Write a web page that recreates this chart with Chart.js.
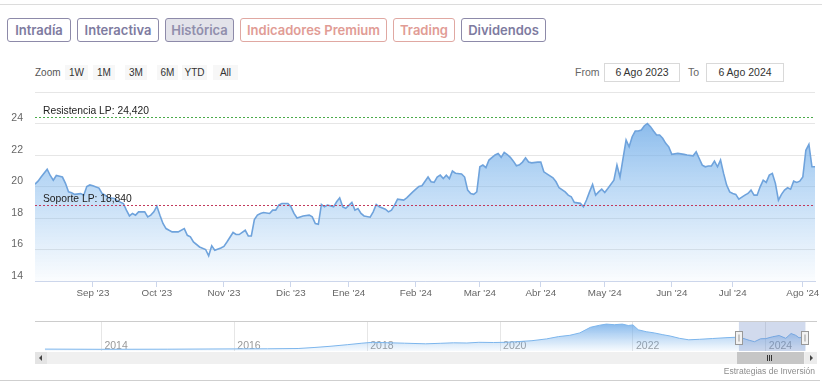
<!DOCTYPE html>
<html>
<head>
<meta charset="utf-8">
<script src="https://cdn.jsdelivr.net/npm/chart.js@4/dist/chart.umd.min.js"></script>
<style>
  html, body { margin: 0; padding: 0; background: #fff; }
  body { width: 829px; height: 384px; position: relative; overflow: hidden; font-family: "Liberation Sans", Arial, sans-serif; }
  .abs { position: absolute; }
  .hline { position: absolute; height: 1px; background: #dcdcdc; }
  .tab { position: absolute; top: 18px; height: 22px; line-height: 22px; border: 1px solid #8d8aa9; border-radius: 3px;
         font-family: Inter, "Open Sans", sans-serif; font-weight: 600; font-size: 13px; color: #7e7b9f; text-align: center; box-sizing: content-box; }
  .tab.active { background: #e3e3ea; color: #908eac; }
  .tab.premium { border-color: #e0a8a2; color: #e19c95; }
  .zl { position: absolute; top: 65px; height: 15px; line-height: 15px; font-family: "Liberation Sans", Arial, sans-serif; font-size: 10px; color: #333; }
  .zb { background: #f7f7f7; text-align: center; }
  .inp { position: absolute; top: 63px; height: 17px; line-height: 17px; border: 1px solid #d9d9d9; font-size: 10.5px; color: #333; text-align: center; }
  .lbl { position: absolute; top: 64px; line-height: 17px; font-size: 10.5px; color: #666; }
  canvas { position: absolute; left: 0; }
</style>
</head>
<body>
<div class="hline" style="top:4px;left:0;width:822px;"></div>

<div class="tab" style="left:7px;width:62px;">Intradía</div>
<div class="tab" style="left:77px;width:80px;">Interactiva</div>
<div class="tab active" style="left:165px;width:67px;">Histórica</div>
<div class="tab premium" style="left:240px;width:145px;">Indicadores Premium</div>
<div class="tab premium" style="left:393px;width:60px;">Trading</div>
<div class="tab" style="left:461px;width:83px;">Dividendos</div>

<div class="zl" style="left:35px;color:#555;">Zoom</div>
<div class="zl zb" style="left:65px;width:23px;">1W</div>
<div class="zl zb" style="left:93px;width:22px;">1M</div>
<div class="zl zb" style="left:125px;width:22px;">3M</div>
<div class="zl zb" style="left:157px;width:21px;">6M</div>
<div class="zl zb" style="left:182px;width:25px;">YTD</div>
<div class="zl zb" style="left:213px;width:25px;">All</div>

<div class="lbl" style="left:575px;">From</div>
<div class="inp" style="left:604px;width:74px;">6 Ago 2023</div>
<div class="lbl" style="left:688px;">To</div>
<div class="inp" style="left:706px;width:76px;">6 Ago 2024</div>

<canvas id="main" width="829" height="217" style="top:88px;width:829px;height:217px;"></canvas>
<canvas id="nav" width="829" height="36" style="top:318px;width:829px;height:36px;"></canvas>

<!-- scrollbar -->
<div class="abs" style="left:35px;top:352px;width:782px;height:12px;background:#f0f0f0;"></div>
<div class="abs" style="left:35px;top:352px;width:12px;height:12px;background:#e4e4e4;"></div>
<div class="abs" style="left:39px;top:355px;width:0;height:0;border-top:3px solid transparent;border-bottom:3px solid transparent;border-right:3px solid #444;"></div>
<div class="abs" style="left:737px;top:352px;width:67px;height:12px;background:#c6c6c6;"></div>
<div class="abs" style="left:767px;top:355px;width:1px;height:6px;background:#333;"></div>
<div class="abs" style="left:769px;top:355px;width:1px;height:6px;background:#333;"></div>
<div class="abs" style="left:771px;top:355px;width:1px;height:6px;background:#333;"></div>
<div class="abs" style="left:805px;top:352px;width:12px;height:12px;background:#ececec;"></div>
<div class="abs" style="left:810px;top:355px;width:0;height:0;border-top:3px solid transparent;border-bottom:3px solid transparent;border-left:3px solid #444;"></div>

<div class="abs" style="right:14px;top:365px;font-size:8.5px;color:#8c8c8c;line-height:12px;">Estrategias de Inversión</div>
<div class="hline" style="top:380px;left:0;width:820px;background:#cfcfcf;"></div>

<script>
// ---------- DATA ----------
// x = trading-day index (ordinal axis, 7 Ago 2023 = 0), price in EUR
const dayIdx = [0,1,2,4,5,6,7,9,10,11,12,13,15,16,17,18,19,21,22,23,24,26,27,29,30,31,32,33,34,36,37,38,39,40,41,42,43,44,45,47,49,50,51,52,54,56,57,58,59,61,62,63,65,66,67,69,70,71,72,73,74,75,77,78,79,80,81,83,84,85,86,88,90,91,92,93,94,95,96,98,99,100,101,102,104,105,106,107,108,110,111,112,113,115,116,117,118,119,121,122,124,125,126,127,129,130,131,132,133,134,135,136,137,138,140,141,142,143,144,145,146,147,148,149,151,152,153,154,155,156,157,158,159,160,161,162,163,165,166,167,168,170,171,172,174,175,176,177,179,180,181,182,183,184,185,186,187,188,190,191,192,193,194,195,196,197,198,199,200,201,202,203,204,205,206,207,208,209,211,213,214,216,217,218,219,220,221,222,223,224,225,226,227,228,229,230,231,233,234,235,236,237,238,239,240,241,242,243,244,245,246,247,248,249,250,251,252,253,254,255,256];
const price = [20.15,20.34,20.6,21.1,20.7,20.4,20.7,20.6,20.2,19.66,19.6,19.5,19.55,19.45,20.0,20.1,20.05,19.9,19.56,19.45,19.3,19.24,19.1,18.92,18.5,18.13,18.29,18.18,18.39,18.39,18.07,18.18,18.39,18.75,18.18,17.65,17.33,17.22,17.12,17.12,17.33,16.9,16.8,16.48,16.16,16.0,15.6,16.23,15.95,16.1,16.2,16.48,17.08,16.95,16.95,17.22,16.86,16.86,17.9,18.18,18.29,18.35,18.29,18.5,18.5,18.82,18.92,18.92,18.71,18.29,18.0,18.13,18.18,18.07,17.65,17.6,18.86,18.71,18.82,18.71,19.03,19.28,18.71,18.61,18.99,18.5,18.6,18.29,18.13,18.05,18.39,18.86,18.71,18.56,18.39,18.5,18.82,19.2,19.14,19.28,19.66,19.83,20.0,20.05,20.6,20.3,20.26,20.6,20.72,20.5,20.72,20.5,20.98,20.84,20.8,20.6,19.77,19.56,19.5,19.66,21.25,21.36,21.2,21.68,22.0,22.1,21.85,22.17,22.03,21.85,21.61,21.32,21.38,21.55,21.82,21.55,21.5,21.55,21.55,20.93,20.8,20.55,20.3,19.92,19.66,19.45,19.35,18.99,18.93,18.71,19.14,19.66,20.13,19.45,19.66,19.83,19.62,19.87,20.4,21.36,20.6,21.78,22.95,22.52,23.16,23.52,23.52,23.59,23.86,24.0,23.8,23.52,23.27,23.27,23.06,22.74,22.52,22.04,22.1,22.04,22.0,21.95,22.2,21.78,21.36,21.25,21.3,21.3,21.61,21.25,21.68,20.83,20.09,19.66,19.56,19.5,19.2,19.45,19.56,19.77,19.45,19.45,19.98,20.4,20.26,20.72,20.83,20.2,19.13,19.5,19.77,19.92,19.83,20.34,20.26,20.34,20.6,22.3,22.68,21.25,21.25];

// month tick positions (first trading day of each month) and their labels
const monthIdx = [19,40,62,84,103,125,146,166,187,209,229,252];
const monthLabels = ["Sep '23","Oct '23","Nov '23","Dic '23","Ene '24","Feb '24","Mar '24","Abr '24","May '24","Jun '24","Jul '24","Ago '24"];
const yTicks = [14,16,18,20,22,24,26];
const yLabelsShown = ["14","16","18","20","22","24",""];

// horizontal reference levels
const levelValues = [24.42, 18.84];
const levelLabels = ["Resistencia LP: 24,420", "Soporte LP: 18,840"];

// navigator (long history), x in years
const navYears = [2013.15,2014.0,2015.0,2016.0,2016.5,2016.96,2017.2,2017.44,2017.7,2017.92,2018.08,2018.3,2018.56,2018.88,2019.1,2019.3,2019.5,2019.68,2019.9,2020.08,2020.25,2020.48,2020.7,2020.88,2021.05,2021.2,2021.36,2021.5,2021.6,2021.72,2021.84,2021.93,2022.0,2022.08,2022.2,2022.32,2022.45,2022.56,2022.7,2022.84,2023.0,2023.2,2023.4,2023.6,2023.75,2023.83,2023.92,2024.0,2024.1,2024.2,2024.3,2024.38,2024.45,2024.5,2024.6];
const navValues = [8.2,8.0,8.1,8.4,8.5,8.8,9.8,11.0,12.6,14.1,15.0,14.6,14.1,13.5,14.0,14.5,14.3,15.0,14.8,15.0,15.6,16.6,18.4,20.7,22.0,24.4,30.0,32.1,33.2,32.6,33.2,31.8,32.4,27.5,25.6,24.4,22.6,21.3,19.0,17.5,18.0,18.8,19.6,20.2,17.0,15.6,18.5,18.7,20.5,21.8,19.0,23.8,22.0,19.5,21.2];
const navRange = [2023.595, 2024.596];
const navYearTicks = [2014,2016,2018,2020,2022,2024];

// ---------- STYLE ----------
const FONT = "'Liberation Sans', Arial, sans-serif";
const levelColors = ['#4aab4a', '#c23a5c'];

const plotLinePlugin = {
  id: 'plotLines',
  afterDatasetsDraw(chart) {
    const {ctx, chartArea: a, scales: {y}} = chart;
    ctx.save();
    levelValues.forEach((v, i) => {
      const py = Math.round(y.getPixelForValue(v)) + 0.5;
      ctx.strokeStyle = levelColors[i];
      ctx.lineWidth = 1;
      ctx.setLineDash([2, 2]);
      ctx.beginPath(); ctx.moveTo(a.left, py); ctx.lineTo(a.right, py); ctx.stroke();
      ctx.setLineDash([]);
      ctx.fillStyle = '#222';
      ctx.font = '10.3px ' + FONT;
      ctx.textBaseline = 'middle';
      ctx.textAlign = 'left';
      ctx.fillText(levelLabels[i], a.left + 8, py - 6.5);
    });
    ctx.restore();
  }
};

new Chart(document.getElementById('main'), {
  type: 'line',
  data: {
    datasets: [{
      data: dayIdx.map((x, i) => ({x, y: price[i]})),
      borderColor: '#6fa3dc',
      borderWidth: 1.6,
      pointRadius: 0,
      tension: 0,
      fill: 'start',
      backgroundColor(ctx) {
        const a = ctx.chart.chartArea;
        if (!a) return 'rgba(124,181,236,0.5)';
        const g = ctx.chart.ctx.createLinearGradient(0, a.top, 0, a.bottom);
        g.addColorStop(0, 'rgba(104,165,228,0.95)');
        g.addColorStop(0.45, 'rgba(124,181,236,0.55)');
        g.addColorStop(1, 'rgba(124,181,236,0.03)');
        return g;
      }
    }]
  },
  options: {
    responsive: false,
    animation: false,
    devicePixelRatio: 1,
    layout: {padding: {top: 4, right: 14, left: 0, bottom: 0}},
    plugins: {legend: {display: false}, tooltip: {enabled: false}},
    scales: {
      x: {
        type: 'linear', min: 0, max: 256,
        afterBuildTicks(s) { s.ticks = monthIdx.map(v => ({value: v})); },
        afterFit(s) { s.height = 24; s.paddingLeft = 0; s.paddingRight = 0; },
        grid: {drawOnChartArea: false, drawTicks: true, tickLength: 6, tickColor: '#ccd6eb'},
        border: {color: '#ccd6eb'},
        ticks: {autoSkip: false, maxRotation: 0, padding: 0, color: '#666', font: {family: FONT, size: 9.8},
                callback: (v, i) => monthLabels[i]}
      },
      y: {
        min: 14, max: 26,
        afterBuildTicks(s) { s.ticks = yTicks.map(v => ({value: v})); },
        afterFit(s) { s.width = 35; s.paddingTop = 0; s.paddingBottom = 0; },
        grid: {color: '#e6e6e6', drawTicks: false},
        border: {display: false},
        ticks: {padding: 12, labelOffset: -5, color: '#666', font: {family: FONT, size: 10.5},
                callback: (v, i) => yLabelsShown[i]}
      }
    }
  },
  plugins: [plotLinePlugin]
});

const navPlugin = {
  id: 'navMask',
  beforeDatasetsDraw(chart) {
    const {ctx, chartArea: a, scales: {x}} = chart;
    ctx.save();
    ctx.fillStyle = '#999';
    ctx.font = '10.5px ' + FONT;
    ctx.textBaseline = 'middle';
    ctx.textAlign = 'left';
    navYearTicks.forEach(t => {
      ctx.fillText(String(t), x.getPixelForValue(t) + 3, a.bottom - 4.5);
    });
    ctx.restore();
  },
  afterDatasetsDraw(chart) {
    const {ctx, chartArea: a, scales: {x}} = chart;
    const x0 = x.getPixelForValue(navRange[0]);
    const x1 = x.getPixelForValue(navRange[1]);
    ctx.save();
    ctx.fillStyle = 'rgba(102,133,194,0.3)';
    ctx.fillRect(x0, a.top, x1 - x0, a.bottom - a.top);
    ctx.strokeStyle = '#cccccc';
    ctx.lineWidth = 1;
    ctx.beginPath(); ctx.moveTo(a.left, a.top + 0.5); ctx.lineTo(a.right + 2, a.top + 0.5); ctx.stroke();
    [x0, x1].forEach(hx => {
      const L = Math.round(hx) - 3.5, T = a.top + 10.5;
      ctx.fillStyle = '#f2f2f2';
      ctx.strokeStyle = '#999';
      ctx.fillRect(L, T, 7, 13);
      ctx.strokeRect(L, T, 7, 13);
      ctx.beginPath(); ctx.moveTo(L + 3.5, T + 3); ctx.lineTo(L + 3.5, T + 10); ctx.stroke();
    });
    ctx.restore();
  }
};

new Chart(document.getElementById('nav'), {
  type: 'line',
  data: {
    datasets: [{
      data: navYears.map((x, i) => ({x, y: navValues[i]})),
      borderColor: '#7cb5ec',
      borderWidth: 1,
      pointRadius: 0,
      tension: 0,
      fill: 'start',
      backgroundColor(ctx) {
        const a = ctx.chart.chartArea;
        if (!a) return 'rgba(124,181,236,0.4)';
        const g = ctx.chart.ctx.createLinearGradient(0, a.top, 0, a.bottom);
        g.addColorStop(0, 'rgba(110,170,232,0.9)');
        g.addColorStop(1, 'rgba(124,181,236,0.06)');
        return g;
      }
    }]
  },
  options: {
    responsive: false,
    animation: false,
    devicePixelRatio: 1,
    layout: {padding: {top: 3, right: 14, left: 35, bottom: 3}},
    plugins: {legend: {display: false}, tooltip: {enabled: false}},
    scales: {
      x: {
        type: 'linear', min: 2013.0, max: 2024.74,
        afterBuildTicks(s) { s.ticks = navYearTicks.map(v => ({value: v})); },
        afterFit(s) { s.height = 0; s.paddingLeft = 0; s.paddingRight = 0; },
        grid: {color: '#e6e6e6', drawTicks: false},
        border: {display: false},
        ticks: {display: false}
      },
      y: {display: false, min: 6.3, max: 36.3}
    }
  },
  plugins: [navPlugin]
});
</script>
</body>
</html>
